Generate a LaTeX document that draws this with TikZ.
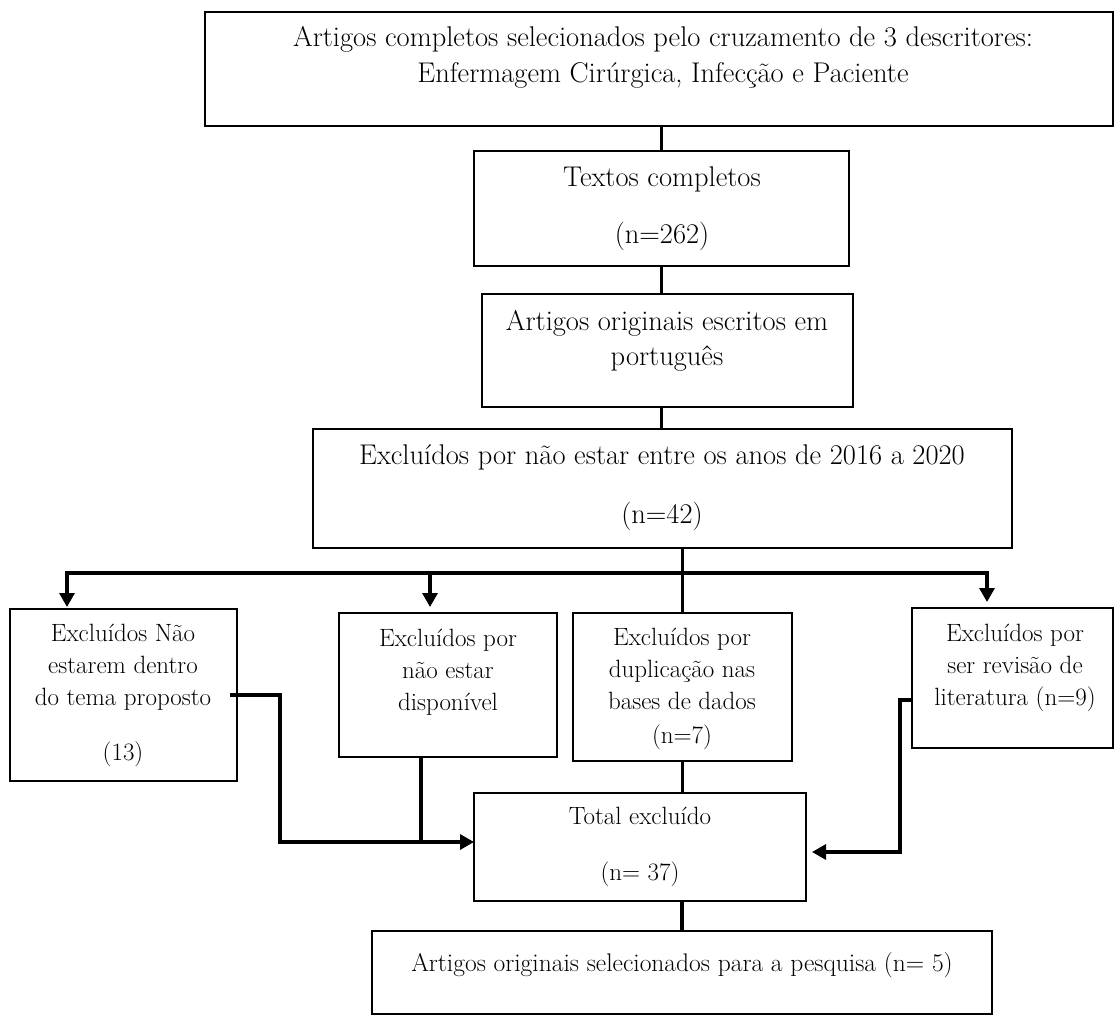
\documentclass[tikz,border=0pt]{standalone}
\usepackage{tikz}
\usetikzlibrary{calc,arrows.meta}

\tikzset{
  box/.style={draw, line width=2pt, inner sep=0pt, outer sep=0pt},
  txt/.style={align=center, font=\fontsize{25}{32}\selectfont, inner sep=0pt},
  bigtxt/.style={txt, font=\fontsize{28.5}{36}\selectfont},
  link/.style={line width=3.2pt},
  arr/.style={line width=3.2pt, -{Triangle[length=14pt,width=15pt]}},
}

\begin{document}
\begin{tikzpicture}[x=1pt,y=-1pt]
  \useasboundingbox (0,0) rectangle (1114,1016);
  % boxes
  \node[box, line width=2.6pt, minimum width=908pt, minimum height=114pt] (top) at (659,69) {};
  \node[box, minimum width=375pt, minimum height=115pt] (textos) at (661.5,208.5) {};
  \node[box, minimum width=371pt, minimum height=113pt] (orig) at (667.5,350.5) {};
  \node[box, minimum width=699pt, minimum height=119pt] (anos) at (662.5,488.5) {};
  \node[box, minimum width=227pt, minimum height=172pt] (tema) at (123.5,695) {};
  \node[box, minimum width=218pt, minimum height=144pt] (disp) at (448,685) {};
  \node[box, minimum width=219pt, minimum height=148pt] (dup) at (682.5,687) {};
  \node[box, minimum width=201pt, minimum height=140pt] (rev) at (1012.5,678) {};
  \node[box, minimum width=332pt, minimum height=108pt] (total) at (640,847) {};
  \node[box, minimum width=620pt, minimum height=83pt] (final) at (682,972.5) {};
  % texts
  \node[bigtxt] (top-t) at (663,57)
    {Artigos completos selecionados pelo cruzamento de 3 descritores:\\Enfermagem Cirúrgica, Infecção e Paciente};
  \node[bigtxt] (textos-t) at (662,208.5) {Textos completos\\[21pt](n=262)};
  \node[bigtxt, font=\fontsize{28.5}{35}\selectfont] (orig-t) at (667,340.5) {Artigos originais escritos em\\português};
  \node[bigtxt] (anos-t) at (662,487.5) {Excluídos por não estar entre os anos de 2016 a 2020\\[23pt](n=42)};
  \node[txt] (tema-t) at (123,695.5) {Excluídos Não\\estarem dentro\\do tema proposto\\[23pt](13)};
  \node[txt] (disp-t) at (448,672) {Excluídos por\\não estar\\disponível};
  \node[txt] (dup-t) at (682,689) {Excluídos por\\duplicação nas\\bases de dados\\[2pt](n=7)};
  \node[txt] (rev-t) at (1015,668) {Excluídos por\\ser revisão de\\literatura (n=9)};
  \node[txt] (total-t) at (640,847) {Total excluído\\[24pt](n= 37)};
  \node[txt, font=\fontsize{25.5}{30}\selectfont] (final-t) at (682,965) {Artigos originais selecionados para a pesquisa (n= 5)};
  % main line
  \draw[link] (top.south -| textos.north) -- (textos.north);
  \draw[link] (textos.south) -- (textos.south |- orig.north);
  \draw[link] (textos.south |- orig.south) -- (textos.south |- anos.north);
  \draw[link] (dup.north |- anos.south) -- (dup.north);
  % branches
  \coordinate (split) at ($(dup.north |- anos.south)+(0,25)$);
  \coordinate (temaIn) at ($(tema.north)+(-56.5,0)$);
  \coordinate (dispIn) at ($(disp.north)+(-18,0)$);
  \coordinate (revIn) at ($(rev.north)+(-25.5,0)$);
  \draw[arr, shorten >=2pt] (split) -| (temaIn);
  \draw[arr, shorten >=6pt] (split) -| (revIn);
  \draw[arr, shorten >=6pt] (split -| dispIn) -- (dispIn);
  % into total
  \coordinate (inL) at ($(total.west)+(0,-5)$);
  \coordinate (inR) at ($(total.east)+(6,5)$);
  \coordinate (temaOut) at ($(tema.east)+(-7,0)$);
  \coordinate (dispOut) at ($(disp.south)+(-27,0)$);
  \coordinate (revOut) at ($(rev.west)+(0,22)$);
  \draw[arr] (temaOut) -- ++(50,0) |- (inL);
  \draw[link] (dispOut) -- (dispOut |- inL);
  \draw[arr] (revOut) -- ++(-12,0) |- (inR);
  \draw[link] (dup.south) -- (dup.south |- total.north);
  \draw[link] (final.north |- total.south) -- (final.north);
\end{tikzpicture}
\end{document}
